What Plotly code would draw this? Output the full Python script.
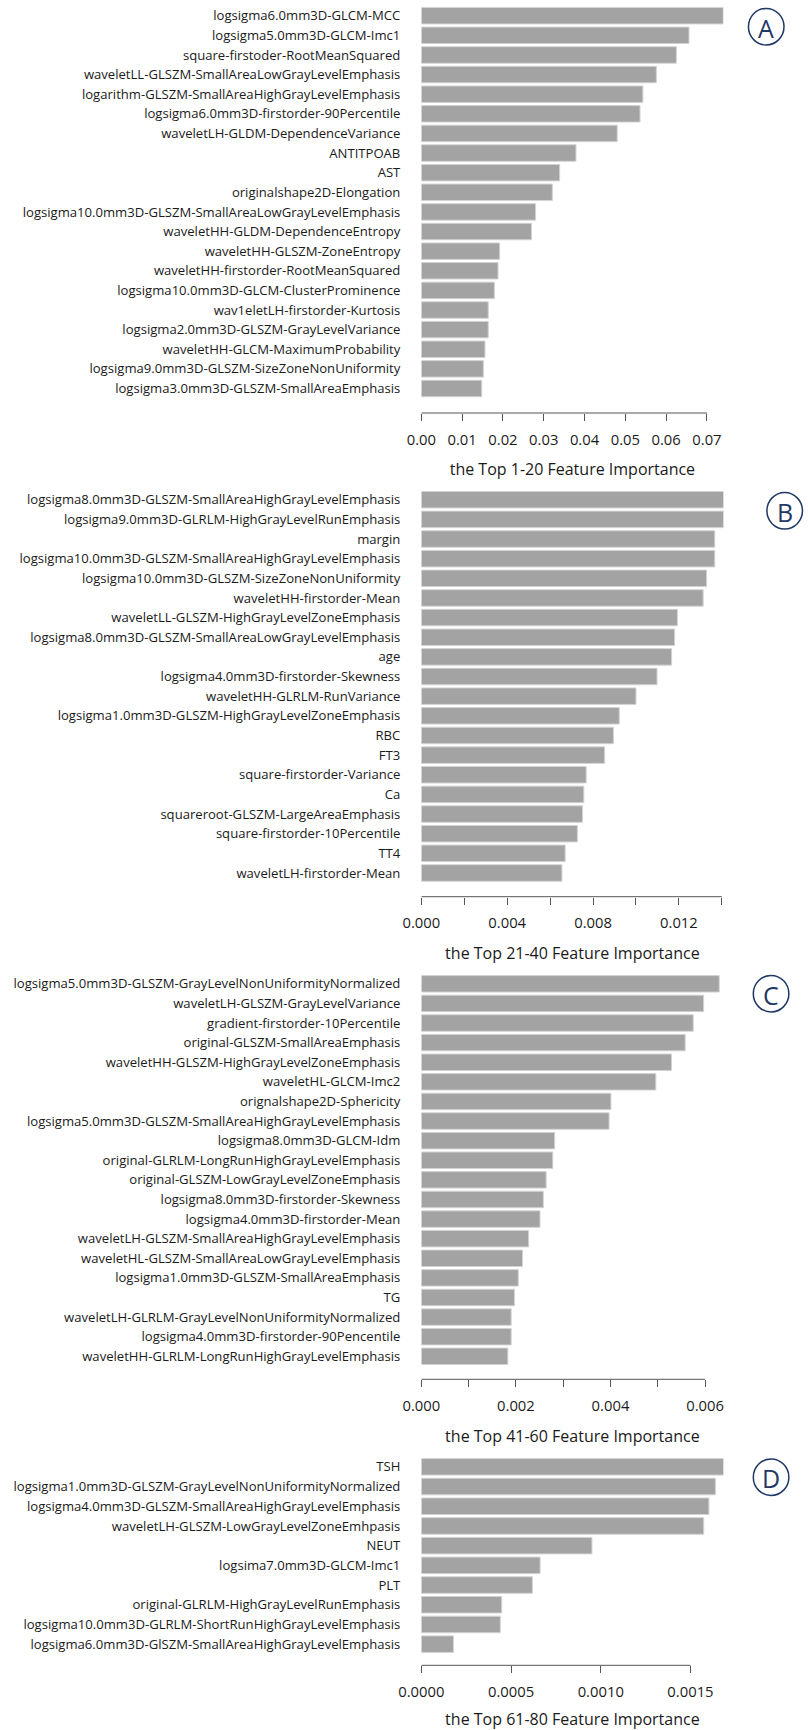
import plotly.graph_objects as go

W, H = 808, 1730

# ---------------- data ----------------
labels_a = [
    "logsigma6.0mm3D-GLCM-MCC",
    "logsigma5.0mm3D-GLCM-Imc1",
    "square-firstoder-RootMeanSquared",
    "waveletLL-GLSZM-SmallAreaLowGrayLevelEmphasis",
    "logarithm-GLSZM-SmallAreaHighGrayLevelEmphasis",
    "logsigma6.0mm3D-firstorder-90Percentile",
    "waveletLH-GLDM-DependenceVariance",
    "ANTITPOAB",
    "AST",
    "originalshape2D-Elongation",
    "logsigma10.0mm3D-GLSZM-SmallAreaLowGrayLevelEmphasis",
    "waveletHH-GLDM-DependenceEntropy",
    "waveletHH-GLSZM-ZoneEntropy",
    "waveletHH-firstorder-RootMeanSquared",
    "logsigma10.0mm3D-GLCM-ClusterProminence",
    "wav1eletLH-firstorder-Kurtosis",
    "logsigma2.0mm3D-GLSZM-GrayLevelVariance",
    "waveletHH-GLCM-MaximumProbability",
    "logsigma9.0mm3D-GLSZM-SizeZoneNonUniformity",
    "logsigma3.0mm3D-GLSZM-SmallAreaEmphasis",
]
values_a = [0.0740, 0.0656, 0.0625, 0.0576, 0.0543, 0.0536, 0.0480, 0.0379,
            0.0339, 0.0321, 0.0280, 0.0270, 0.0192, 0.0188, 0.0179, 0.0164,
            0.0164, 0.0156, 0.0152, 0.0148]
tickvals_a = [0.00, 0.01, 0.02, 0.03, 0.04, 0.05, 0.06, 0.07]
ticktext_a = ["0.00", "0.01", "0.02", "0.03", "0.04", "0.05", "0.06", "0.07"]

labels_b = [
    "logsigma8.0mm3D-GLSZM-SmallAreaHighGrayLevelEmphasis",
    "logsigma9.0mm3D-GLRLM-HighGrayLevelRunEmphasis",
    "margin",
    "logsigma10.0mm3D-GLSZM-SmallAreaHighGrayLevelEmphasis",
    "logsigma10.0mm3D-GLSZM-SizeZoneNonUniformity",
    "waveletHH-firstorder-Mean",
    "waveletLL-GLSZM-HighGrayLevelZoneEmphasis",
    "logsigma8.0mm3D-GLSZM-SmallAreaLowGrayLevelEmphasis",
    "age",
    "logsigma4.0mm3D-firstorder-Skewness",
    "waveletHH-GLRLM-RunVariance",
    "logsigma1.0mm3D-GLSZM-HighGrayLevelZoneEmphasis",
    "RBC",
    "FT3",
    "square-firstorder-Variance",
    "Ca",
    "squareroot-GLSZM-LargeAreaEmphasis",
    "square-firstorder-10Percentile",
    "TT4",
    "waveletLH-firstorder-Mean",
]
values_b = [0.01408, 0.01408, 0.01367, 0.01367, 0.01329, 0.01313, 0.01193,
            0.01180, 0.01166, 0.01098, 0.01000, 0.00922, 0.00895, 0.00854,
            0.00768, 0.00757, 0.00751, 0.00727, 0.00670, 0.00655]
tickvals_b = [0.000, 0.002, 0.004, 0.006, 0.008, 0.010, 0.012, 0.014]
ticktext_b = ["0.000", "", "0.004", "", "0.008", "", "0.012", ""]

labels_c = [
    "logsigma5.0mm3D-GLSZM-GrayLevelNonUniformityNormalized",
    "waveletLH-GLSZM-GrayLevelVariance",
    "gradient-firstorder-10Percentile",
    "original-GLSZM-SmallAreaEmphasis",
    "waveletHH-GLSZM-HighGrayLevelZoneEmphasis",
    "waveletHL-GLCM-Imc2",
    "orignalshape2D-Sphericity",
    "logsigma5.0mm3D-GLSZM-SmallAreaHighGrayLevelEmphasis",
    "logsigma8.0mm3D-GLCM-Idm",
    "original-GLRLM-LongRunHighGrayLevelEmphasis",
    "original-GLSZM-LowGrayLevelZoneEmphasis",
    "logsigma8.0mm3D-firstorder-Skewness",
    "logsigma4.0mm3D-firstorder-Mean",
    "waveletLH-GLSZM-SmallAreaHighGrayLevelEmphasis",
    "waveletHL-GLSZM-SmallAreaLowGrayLevelEmphasis",
    "logsigma1.0mm3D-GLSZM-SmallAreaEmphasis",
    "TG",
    "waveletLH-GLRLM-GrayLevelNonUniformityNormalized",
    "logsigma4.0mm3D-firstorder-90Pencentile",
    "waveletHH-GLRLM-LongRunHighGrayLevelEmphasis",
]
values_c = [0.00630, 0.00597, 0.00575, 0.00558, 0.00529, 0.00496, 0.00401,
            0.00397, 0.00282, 0.00278, 0.00264, 0.00258, 0.00251, 0.00227,
            0.00214, 0.00205, 0.00197, 0.00190, 0.00190, 0.00183]
tickvals_c = [0.000, 0.001, 0.002, 0.003, 0.004, 0.005, 0.006]
ticktext_c = ["0.000", "", "0.002", "", "0.004", "", "0.006"]

labels_d = [
    "TSH",
    "logsigma1.0mm3D-GLSZM-GrayLevelNonUniformityNormalized",
    "logsigma4.0mm3D-GLSZM-SmallAreaHighGrayLevelEmphasis",
    "waveletLH-GLSZM-LowGrayLevelZoneEmhpasis",
    "NEUT",
    "logsima7.0mm3D-GLCM-Imc1",
    "PLT",
    "original-GLRLM-HighGrayLevelRunEmphasis",
    "logsigma10.0mm3D-GLRLM-ShortRunHighGrayLevelEmphasis",
    "logsigma6.0mm3D-GlSZM-SmallAreaHighGrayLevelEmphasis",
]
values_d = [0.001684, 0.001639, 0.001603, 0.001574, 0.000951, 0.000662,
            0.000619, 0.000448, 0.000440, 0.000179]
tickvals_d = [0.0000, 0.0005, 0.0010, 0.0015]
ticktext_d = ["0.0000", "0.0005", "0.0010", "0.0015"]

titles = ["the Top 1-20 Feature Importance", "the Top 21-40 Feature Importance",
          "the Top 41-60 Feature Importance", "the Top 61-80 Feature Importance"]
panel_tags = ["A", "B", "C", "D"]

# ---------------- layout geometry (pixels) ----------------
PLOT_LEFT, PLOT_RIGHT = 410, 721
# (top of bar band, bottom of bar band, axis line y, x max shown, tag centre x, tag centre y)
geometry = [
    (5.9, 398.3, 413.0, 0.07405, 765, 26.7),
    (489.9, 882.8, 896.7, 0.014076, 784, 510.8),
    (974.0, 1366.1, 1379.3, 0.00639, 770, 993.7),
    (1457.0, 1654.0, 1665.3, 0.001684, 770, 1477.2),
]

BAR_COLOR = "#a3a3a3"
EDGE_COLOR = "#d3d3d3"
AXIS_COLOR = "#555555"
TEXT_COLOR = "#1a1a1a"
TAG_COLOR = "#1f3864"
FONT = "Open Sans"

panels = [
    (labels_a, values_a, tickvals_a, ticktext_a),
    (labels_b, values_b, tickvals_b, ticktext_b),
    (labels_c, values_c, tickvals_c, ticktext_c),
    (labels_d, values_d, tickvals_d, ticktext_d),
]


def fy(px):
    return 1 - px / H


def fx(px):
    return px / W


fig = go.Figure()
shapes = []
annotations = []
layout_axes = {}

for i, ((labels, values, tvals, ttext), geo) in enumerate(zip(panels, geometry), start=1):
    top, bottom, axis_y, xmax, tag_x, tag_y = geo
    xa = "x" if i == 1 else f"x{i}"
    ya = "y" if i == 1 else f"y{i}"
    xkey = "xaxis" if i == 1 else f"xaxis{i}"
    ykey = "yaxis" if i == 1 else f"yaxis{i}"
    n = len(labels)

    fig.add_trace(go.Bar(
        x=values, y=labels, orientation="h", xaxis=xa, yaxis=ya,
        width=0.84, marker=dict(color=BAR_COLOR, line=dict(color=EDGE_COLOR, width=1)),
        showlegend=False, hoverinfo="x+y",
    ))

    layout_axes[xkey] = dict(
        domain=[fx(PLOT_LEFT), fx(PLOT_RIGHT)], range=[0, xmax],
        anchor="free", position=fy(axis_y), side="bottom",
        tickvals=tvals, ticktext=ttext, ticks="outside", ticklen=7,
        tickwidth=1, tickcolor=AXIS_COLOR, ticklabelstandoff=6,
        showline=False, showgrid=False, zeroline=False,
        tickfont=dict(family=FONT, size=14.8, color=TEXT_COLOR),
        title=dict(text=titles[i - 1], standoff=16,
                   font=dict(family=FONT, size=16, color=TEXT_COLOR)),
        fixedrange=True,
    )
    layout_axes[ykey] = dict(
        domain=[fy(bottom), fy(top)], anchor=xa, type="category",
        categoryorder="array", categoryarray=labels,
        range=[n - 0.5, -0.5], showgrid=False, showline=False, zeroline=False,
        ticks="", ticklabelstandoff=20,
        tickfont=dict(family=FONT, size=13.1, color=TEXT_COLOR), fixedrange=True,
    )

    # axis baseline spanning the first to last tick
    shapes.append(dict(type="line", xref=xa, yref="paper", x0=tvals[0], x1=tvals[-1],
                       y0=fy(axis_y), y1=fy(axis_y),
                       line=dict(color=AXIS_COLOR, width=1)))

    # circled panel tag
    r = 18.3
    shapes.append(dict(type="circle", xref="paper", yref="paper",
                       x0=fx(tag_x - r), x1=fx(tag_x + r),
                       y0=fy(tag_y + r), y1=fy(tag_y - r),
                       line=dict(color=TAG_COLOR, width=1.5)))
    annotations.append(dict(x=fx(tag_x), y=fy(tag_y + 1), xref="paper", yref="paper",
                            text=panel_tags[i - 1], showarrow=False,
                            xanchor="center", yanchor="middle",
                            font=dict(family=FONT, size=25, color=TAG_COLOR)))

fig.update_layout(
    width=W, height=H, margin=dict(l=0, r=0, t=0, b=0),
    paper_bgcolor="white", plot_bgcolor="white",
    bargap=0.16, shapes=shapes, annotations=annotations,
    **layout_axes,
)

fig.write_html("out.html")
